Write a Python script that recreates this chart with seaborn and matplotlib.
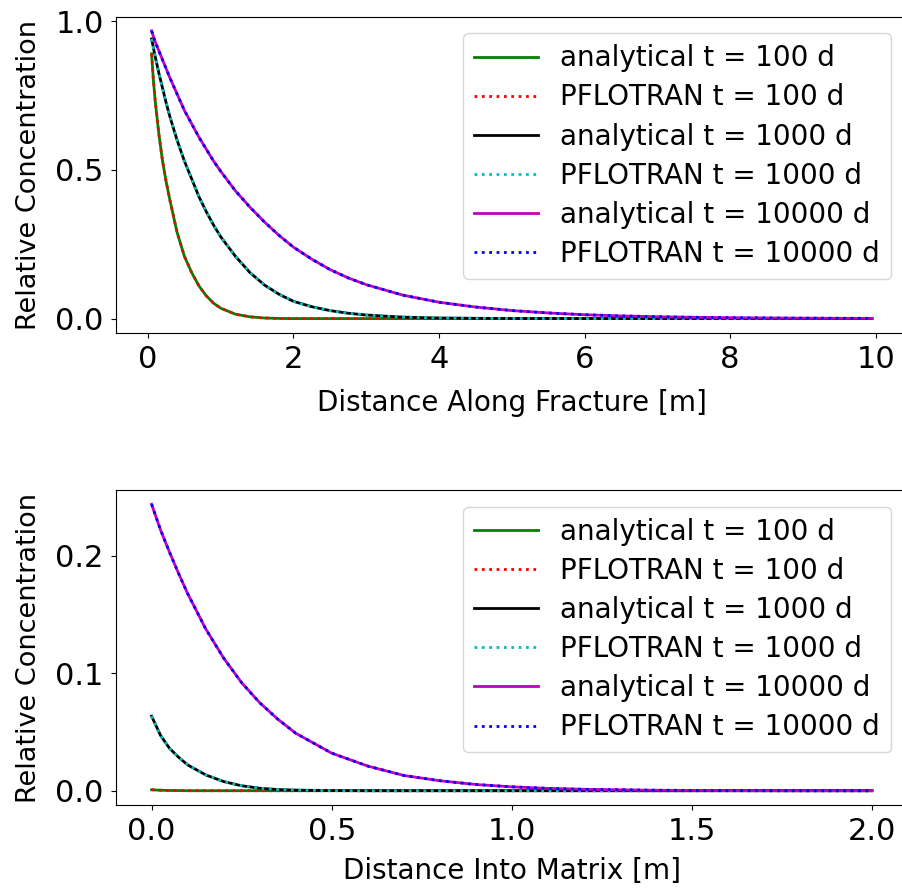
import matplotlib
matplotlib.use('Agg')
import matplotlib.pyplot as plt
import seaborn as sns

# Fracture profile (top panel)
x_frac = [0.05, 0.075, 0.1, 0.15, 0.2, 0.25, 0.3, 0.4, 0.5, 0.6, 0.7, 0.8, 0.9, 1.0,
          1.2, 1.4, 1.6, 1.8, 2.0, 2.25, 2.5, 2.75, 3.0, 3.5, 4.0, 4.5, 5.0,
          5.5, 6.0, 6.5, 7.0, 7.5, 8.0, 8.5, 9.0, 9.5, 9.95]
frac_100_ana = [0.89, 0.80, 0.73, 0.62, 0.53, 0.46, 0.40, 0.29, 0.21, 0.155, 0.11, 0.077,
                0.052, 0.035, 0.015, 0.006, 0.002, 0.0005, 0.0, 0.0, 0.0, 0.0, 0.0,
                0.0, 0.0, 0.0, 0.0, 0.0, 0.0, 0.0, 0.0, 0.0, 0.0, 0.0, 0.0, 0.0, 0.0]
frac_100_pf = [0.89, 0.80, 0.73, 0.62, 0.53, 0.46, 0.40, 0.29, 0.21, 0.155, 0.11, 0.077,
               0.052, 0.035, 0.015, 0.006, 0.002, 0.0005, 0.0, 0.0, 0.0, 0.0, 0.0,
               0.0, 0.0, 0.0, 0.0, 0.0, 0.0, 0.0, 0.0, 0.0, 0.0, 0.0, 0.0, 0.0, 0.0]
frac_1000_ana = [0.94, 0.91, 0.88, 0.825, 0.775, 0.725, 0.68, 0.60, 0.53, 0.47, 0.41, 0.36,
                 0.315, 0.275, 0.21, 0.155, 0.113, 0.082, 0.058, 0.04, 0.027, 0.018,
                 0.012, 0.005, 0.002, 0.001, 0.0004, 0.0002, 0.0, 0.0, 0.0, 0.0, 0.0,
                 0.0, 0.0, 0.0, 0.0]
frac_1000_pf = [0.94, 0.91, 0.88, 0.825, 0.775, 0.725, 0.68, 0.60, 0.53, 0.47, 0.41, 0.36,
                0.315, 0.275, 0.21, 0.155, 0.113, 0.082, 0.058, 0.04, 0.027, 0.018,
                0.012, 0.005, 0.002, 0.001, 0.0004, 0.0002, 0.0, 0.0, 0.0, 0.0, 0.0,
                0.0, 0.0, 0.0, 0.0]
frac_10000_ana = [0.967, 0.948, 0.93, 0.90, 0.87, 0.84, 0.81, 0.755, 0.70, 0.655, 0.61, 0.57,
                  0.53, 0.495, 0.43, 0.375, 0.325, 0.28, 0.24, 0.20, 0.165, 0.137,
                  0.114, 0.079, 0.055, 0.039, 0.027, 0.019, 0.013, 0.009, 0.0063,
                  0.0044, 0.003, 0.0022, 0.0015, 0.001, 0.0008]
frac_10000_pf = [0.967, 0.948, 0.93, 0.90, 0.87, 0.84, 0.81, 0.755, 0.70, 0.655, 0.61, 0.57,
                 0.53, 0.495, 0.43, 0.375, 0.325, 0.28, 0.24, 0.20, 0.165, 0.137,
                 0.114, 0.079, 0.055, 0.039, 0.027, 0.019, 0.013, 0.009, 0.0063,
                 0.0044, 0.003, 0.0022, 0.0015, 0.001, 0.0008]

# Matrix profile (bottom panel)
x_mat = [0.0, 0.025, 0.05, 0.075, 0.1, 0.15, 0.2, 0.25, 0.3, 0.35, 0.4, 0.5,
         0.6, 0.7, 0.8, 0.9, 1.0, 1.1, 1.2, 1.4, 1.6, 1.8, 2.0]
mat_100_ana = [0.0008, 0.0004, 0.0002, 0.0001, 0.0, 0.0, 0.0, 0.0, 0.0, 0.0, 0.0, 0.0,
               0.0, 0.0, 0.0, 0.0, 0.0, 0.0, 0.0, 0.0, 0.0, 0.0, 0.0]
mat_100_pf = [0.0008, 0.0004, 0.0002, 0.0001, 0.0, 0.0, 0.0, 0.0, 0.0, 0.0, 0.0, 0.0,
              0.0, 0.0, 0.0, 0.0, 0.0, 0.0, 0.0, 0.0, 0.0, 0.0, 0.0]
mat_1000_ana = [0.0635, 0.047, 0.036, 0.0285, 0.022, 0.0135, 0.0078, 0.0042, 0.0021,
                0.001, 0.0005, 0.0001, 0.0, 0.0, 0.0, 0.0, 0.0, 0.0, 0.0, 0.0, 0.0,
                0.0, 0.0]
mat_1000_pf = [0.0635, 0.047, 0.036, 0.0285, 0.022, 0.0135, 0.0078, 0.0042, 0.0021,
               0.001, 0.0005, 0.0001, 0.0, 0.0, 0.0, 0.0, 0.0, 0.0, 0.0, 0.0, 0.0,
               0.0, 0.0]
mat_10000_ana = [0.244, 0.222, 0.203, 0.185, 0.168, 0.138, 0.113, 0.092, 0.075, 0.061,
                 0.049, 0.032, 0.021, 0.013, 0.0085, 0.0053, 0.0033, 0.002, 0.0012,
                 0.0004, 0.0001, 0.0, 0.0]
mat_10000_pf = [0.244, 0.222, 0.203, 0.185, 0.168, 0.138, 0.113, 0.092, 0.075, 0.061,
                0.049, 0.032, 0.021, 0.013, 0.0085, 0.0053, 0.0033, 0.002, 0.0012,
                0.0004, 0.0001, 0.0, 0.0]

labels = ['analytical t = 100 d', 'PFLOTRAN t = 100 d',
          'analytical t = 1000 d', 'PFLOTRAN t = 1000 d',
          'analytical t = 10000 d', 'PFLOTRAN t = 10000 d']
colors = ['g', 'r', 'k', 'c', 'm', 'b']
styles = ['-', ':', '-', ':', '-', ':']

top_xticks = [0, 2, 4, 6, 8, 10]
top_yticks = [0.0, 0.5, 1.0]
bot_xticks = [0.0, 0.5, 1.0, 1.5, 2.0]
bot_yticks = [0.0, 0.1, 0.2]

fig = plt.figure(figsize=(9.03, 8.92), dpi=100)
ax1 = fig.add_axes([0.128, 0.6267, 0.8775, 0.3548])
ax2 = fig.add_axes([0.128, 0.0975, 0.8775, 0.3532])

top_series = [frac_100_ana, frac_100_pf, frac_1000_ana, frac_1000_pf,
              frac_10000_ana, frac_10000_pf]
bot_series = [mat_100_ana, mat_100_pf, mat_1000_ana, mat_1000_pf,
              mat_10000_ana, mat_10000_pf]

for ax, xs, series in [(ax1, x_frac, top_series), (ax2, x_mat, bot_series)]:
    for ys, lab, c, ls in zip(series, labels, colors, styles):
        sns.lineplot(x=xs, y=ys, ax=ax, color=c, linestyle=ls, linewidth=2,
                     label=lab, estimator=None, sort=False)
    ax.set_ylabel('Relative Concentration', fontsize=19.5, labelpad=10)
    ax.tick_params(labelsize=22, pad=5)
    ax.legend(loc='upper right', fontsize=20, borderaxespad=0.6,
              labelspacing=0.4, handlelength=2.3)

ax1.set_xticks(top_xticks)
ax1.set_yticks(top_yticks)
ax1.set_xlim(-0.445, 10.445)
ax1.set_xlabel('Distance Along Fracture [m]', fontsize=20, labelpad=11)

ax2.set_xticks(bot_xticks)
ax2.set_yticks(bot_yticks)
ax2.set_xlim(-0.1, 2.1)
ax2.set_xlabel('Distance Into Matrix [m]', fontsize=20, labelpad=8)

fig.savefig('out.png', dpi=100)
